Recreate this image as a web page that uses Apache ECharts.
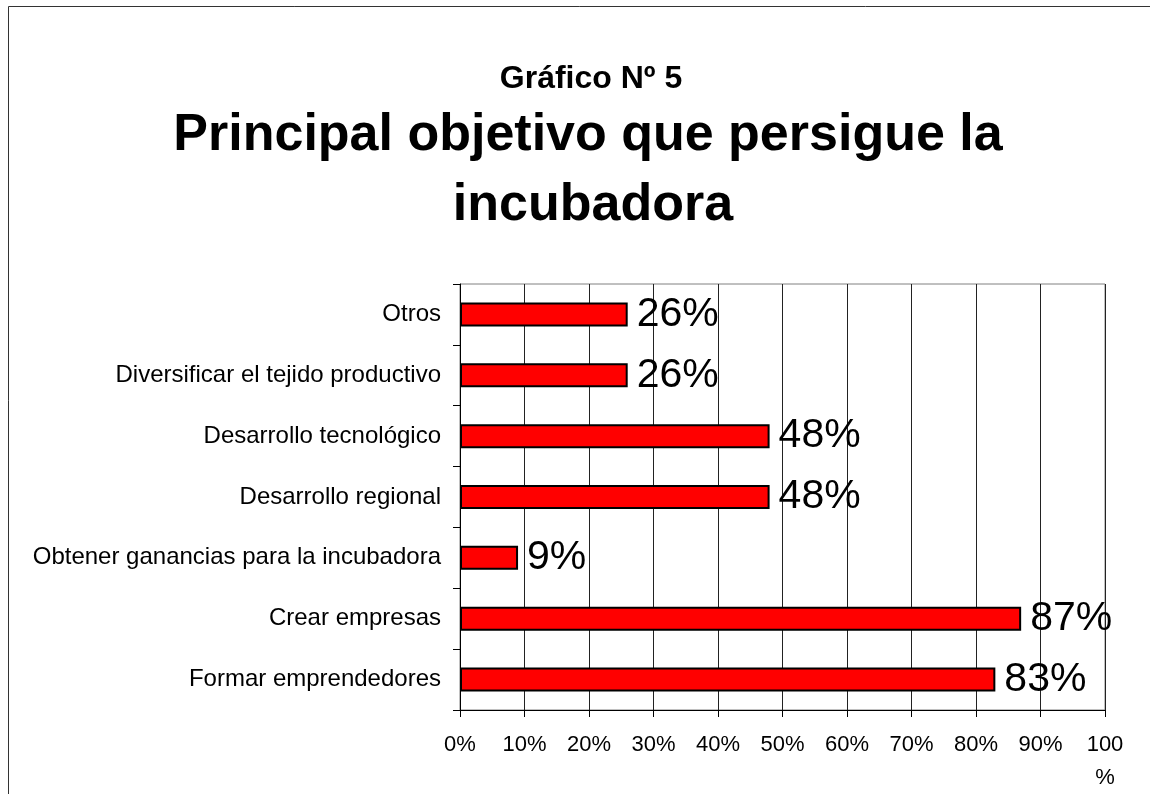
<!DOCTYPE html>
<html>
<head>
<meta charset="utf-8">
<script src="https://cdn.jsdelivr.net/npm/echarts@6/dist/echarts.min.js"></script>
<style>
  html, body { margin: 0; padding: 0; background: #fff; }
  #chart { width: 1150px; height: 794px; }
</style>
</head>
<body>
<div id="chart"></div>
<script>
// categorias de arriba hacia abajo
const categories = [
  'Otros',
  'Diversificar el tejido productivo',
  'Desarrollo tecnológico',
  'Desarrollo regional',
  'Obtener ganancias para la incubadora',
  'Crear empresas',
  'Formar emprendedores'
]
const values = [26, 26, 48, 48, 9, 87, 83]
const xTicks = [0, 10, 20, 30, 40, 50, 60, 70, 80, 90, 100]

const chart = echarts.init(document.getElementById('chart'))
const font = 'Arial, "Liberation Sans", sans-serif'

const titleStyle = (size) => ({
  fontSize: size,
  lineHeight: size,
  fontWeight: 'bold',
  color: '#000',
  fontFamily: font
})

const option = {
  animation: false,
  backgroundColor: '#fff',
  textStyle: { fontFamily: font },
  graphic: [{
    type: 'rect',
    shape: { x: 8.5, y: 6.5, width: 1200, height: 900 },
    style: { fill: 'none', stroke: '#333', lineWidth: 1 },
    silent: true
  }],
  title: [
    { text: 'Gráfico Nº 5', left: 586, top: 58, textAlign: 'center', textStyle: titleStyle(32) },
    { text: 'Principal objetivo que persigue la', left: 583, top: 105, textAlign: 'center', textStyle: titleStyle(52) },
    { text: 'incubadora', left: 588, top: 175, textAlign: 'center', textStyle: titleStyle(52) }
  ],
  grid: {
    left: 460,
    right: 45,
    top: 284,
    bottom: 81,
    show: true,
    borderColor: '#808080',
    borderWidth: 1
  },
  xAxis: {
    type: 'value',
    min: xTicks[0],
    max: xTicks[xTicks.length - 1],
    interval: 10,
    axisLine: { show: true, lineStyle: { color: '#000', width: 1 } },
    axisTick: { show: true, length: 7, lineStyle: { color: '#000' } },
    splitLine: { show: true, lineStyle: { color: '#222', width: 1 } },
    axisLabel: {
      color: '#000',
      fontSize: 22,
      margin: 18,
      lineHeight: 33,
      fontFamily: font,
      formatter: v => (v === 100 ? '100\n%' : v + '%')
    }
  },
  yAxis: {
    type: 'category',
    data: categories,
    inverse: true,
    axisLine: { show: true, lineStyle: { color: '#000', width: 1 } },
    axisTick: { show: true, length: 7, lineStyle: { color: '#000' } },
    axisLabel: { color: '#000', fontSize: 24, margin: 19, fontFamily: font }
  },
  series: [{
    type: 'bar',
    data: values,
    barWidth: 24,
    itemStyle: { color: '#ff0000', borderColor: '#000', borderWidth: 2 },
    label: {
      show: true,
      position: 'right',
      distance: 9,
      formatter: '{c}%',
      color: '#000',
      fontSize: 41,
      fontFamily: font
    }
  }]
}
chart.setOption(option)
</script>
</body>
</html>
